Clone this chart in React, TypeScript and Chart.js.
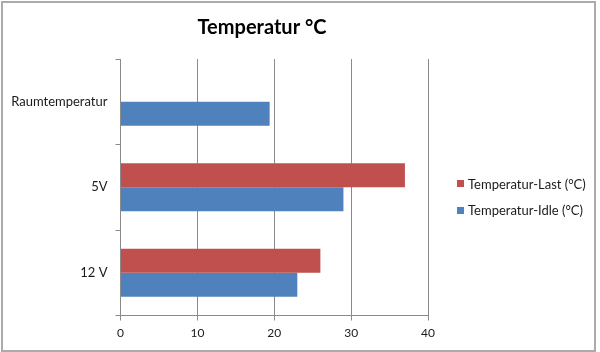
import React, { useEffect, useRef } from "react";
import { Chart, registerables } from "chart.js";

Chart.register(...registerables);

const titleText = "Temperatur °C";
const categories = ["Raumtemperatur", "5V", "12 V"];
const seriesNames = ["Temperatur-Last (°C)", "Temperatur-Idle (°C)"];
const lastValues: (number | null)[] = [null, 37, 26];
const idleValues: (number | null)[] = [19.4, 29, 23];
const xMin = 0;
const xMax = 40;
const xStep = 10;

const RED = "#C0504D";
const BLUE = "#4F81BD";
const GRID = "#8A8A8A";
const TEXT = "#1a1a1a";
const FONT = "Lato, 'Open Sans', sans-serif";

const frameLegendPlugin = {
  id: "frameLegend",
  beforeDraw(chart: any) {
    const { ctx, width, height } = chart;
    ctx.save();
    ctx.fillStyle = "#ffffff";
    ctx.fillRect(0, 0, width, height);
    ctx.restore();
  },
  afterDraw(chart: any) {
    const { ctx, chartArea, width, height } = chart;
    ctx.save();
    // outer frame
    ctx.strokeStyle = "#ABABAB";
    ctx.lineWidth = 2;
    ctx.strokeRect(2, 2, width - 7, height - 3);
    // legend
    const ds = chart.data.datasets;
    const spacing = 26.7;
    const cy = (chartArea.top + chartArea.bottom) / 2 + 10;
    const startY = cy - ((ds.length - 1) * spacing) / 2;
    const x0 = chartArea.right + 29;
    ctx.font = `13px ${FONT}`;
    ctx.textBaseline = "middle";
    ctx.textAlign = "left";
    ds.forEach((d: any, i: number) => {
      const y = startY + i * spacing;
      ctx.fillStyle = d.backgroundColor;
      ctx.fillRect(x0, Math.round(y - 3.5), 7, 7);
      ctx.fillStyle = TEXT;
      ctx.fillText(d.label, x0 + 11, y + 0.5);
    });
    ctx.restore();
  },
};

export default function App() {
  const ref = useRef<HTMLCanvasElement | null>(null);

  useEffect(() => {
    if (!ref.current) return;
    const chart = new Chart(ref.current, {
      type: "bar",
      data: {
        labels: categories,
        datasets: [
          {
            label: seriesNames[0],
            data: lastValues,
            backgroundColor: RED,
            borderWidth: 0,
            barPercentage: 1,
            categoryPercentage: 0.56,
          },
          {
            label: seriesNames[1],
            data: idleValues,
            backgroundColor: BLUE,
            borderWidth: 0,
            barPercentage: 1,
            categoryPercentage: 0.56,
          },
        ],
      },
      options: {
        indexAxis: "y",
        animation: false,
        responsive: false,
        layout: { padding: { left: 0, top: 0, right: 76, bottom: 0 } },
        plugins: {
          legend: { display: false },
          tooltip: { enabled: false },
          title: {
            display: true,
            text: titleText,
            color: "#000",
            font: { family: FONT, size: 20, weight: "bold" },
            padding: { top: 16, bottom: 19 },
          },
        },
        scales: {
          x: {
            min: xMin,
            max: xMax,
            ticks: {
              stepSize: xStep,
              color: TEXT,
              font: { family: FONT, size: 12 },
              padding: 5,
            },
            grid: {
              color: GRID,
              lineWidth: 1,
              drawOnChartArea: true,
              drawTicks: true,
              tickLength: 5,
            },
            border: { display: true, color: GRID, width: 1 },
            afterFit: (scale: any) => {
              scale.height = 36.5;
            },
          },
          y: {
            ticks: {
              color: TEXT,
              font: { family: FONT, size: 13 },
              padding: 8,
            },
            grid: {
              color: GRID,
              lineWidth: 1,
              drawOnChartArea: false,
              drawTicks: true,
              tickLength: 5,
              offset: true,
            },
            border: { display: true, color: GRID, width: 1 },
            afterFit: (scale: any) => {
              scale.width = 120.5;
            },
          },
          legendSpace: {
            type: "category",
            position: "right",
            axis: "y",
            ticks: { display: false },
            grid: { display: false, drawTicks: false },
            border: { display: false },
            afterFit: (scale: any) => {
              scale.width = 96;
            },
          },
        },
      },
      plugins: [frameLegendPlugin],
    });
    return () => chart.destroy();
  }, []);

  return (
    <div style={{ position: "absolute", left: 0, top: 0, width: 600, height: 352 }}>
      <canvas ref={ref} width={600} height={352} style={{ display: "block" }} />
    </div>
  );
}
